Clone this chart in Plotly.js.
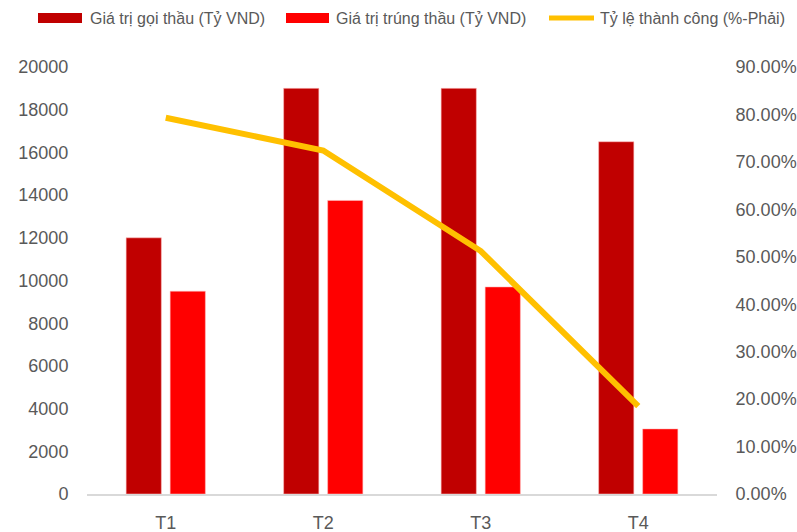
<!DOCTYPE html>
<html>
<head>
<meta charset="utf-8">
<script src="https://cdn.plot.ly/plotly-3.0.1.min.js"></script>
<style>
html,body{margin:0;padding:0;background:#fff;}
#chart{width:797px;height:532px;}
</style>
</head>
<body>
<div id="chart"></div>
<script>
const categories = ["T1", "T2", "T3", "T4"];
const bidValues = [12000, 19000, 19000, 16500];
const winValues = [9500, 13750, 9700, 3050];
const successRate = [0.793, 0.724, 0.512, 0.185];
const seriesNames = ["Giá trị gọi thầu (Tỷ VND)", "Giá trị trúng thầu (Tỷ VND)", "Tỷ lệ thành công (%-Phải)"];
const leftTicks = [0, 2000, 4000, 6000, 8000, 10000, 12000, 14000, 16000, 18000, 20000];
const rightTicks = [0, 0.1, 0.2, 0.3, 0.4, 0.5, 0.6, 0.7, 0.8, 0.9];

const FONT = '"Liberation Sans", Arial, sans-serif';
const DARK = '#C00000', RED = '#FF0000', GOLD = '#FFC000';
const GREY = '#595959';

// plot-area geometry (pixels) for placing the legend in paper coordinates
const W = 797, H = 532, ML = 87, MR = 80, MT = 67, MB = 38;
const PW = W - ML - MR, PH = H - MT - MB;
const px = v => (v - ML) / PW;
const py = v => (H - MB - v) / PH;

const traces = [
  {type:'bar', x:categories, y:bidValues, name:seriesNames[0], marker:{color:DARK, line:{color:'rgba(255,190,190,0.7)', width:0.8}}, hoverinfo:'y'},
  {type:'bar', x:categories, y:winValues, name:seriesNames[1], marker:{color:RED, line:{color:'rgba(255,190,190,0.7)', width:0.8}}, hoverinfo:'y'},
  {type:'scatter', mode:'lines', x:categories, y:successRate, name:seriesNames[2], yaxis:'y2', line:{color:GOLD, width:6}, hoverinfo:'y'}
];

const legendY = 18;
const legendItems = [
  {kind:'rect', color:DARK, x0:38, x1:82, tx:88, text:seriesNames[0]},
  {kind:'rect', color:RED, x0:286, x1:329, tx:334, text:seriesNames[1]},
  {kind:'line', color:GOLD, x0:549, x1:594, tx:598, text:seriesNames[2]}
];

const shapes = legendItems.map(it => it.kind === 'rect'
  ? {type:'rect', xref:'paper', yref:'paper', x0:px(it.x0), x1:px(it.x1), y0:py(legendY+5), y1:py(legendY-5), fillcolor:it.color, line:{width:0}}
  : {type:'line', xref:'paper', yref:'paper', x0:px(it.x0), x1:px(it.x1), y0:py(legendY), y1:py(legendY), line:{color:it.color, width:5}});

const annotations = legendItems.map(it => ({
  xref:'paper', yref:'paper', x:px(it.tx), y:py(legendY), xanchor:'left', yanchor:'middle',
  text:it.text, showarrow:false, font:{family:FONT, size:16, color:GREY}
}));

const layout = {
  width:W, height:H,
  margin:{l:ML, r:MR, t:MT, b:MB, pad:0},
  paper_bgcolor:'#fff', plot_bgcolor:'#fff',
  font:{family:FONT, size:18, color:GREY},
  barmode:'group', bargap:0.441, bargroupgap:0.2,
  showlegend:false,
  shapes:shapes, annotations:annotations,
  xaxis:{type:'category', showgrid:false, zeroline:false, showline:true, linecolor:'#D9D9D9', linewidth:1.5, ticks:'outside', ticklen:12, tickcolor:'rgba(0,0,0,0)', tickfont:{family:FONT, size:18, color:GREY}, fixedrange:true},
  yaxis:{range:[0,20000], tickvals:leftTicks, ticktext:leftTicks.map(v=>String(v)), showgrid:false, zeroline:false, showline:false, ticks:'outside', ticklen:14, tickcolor:'rgba(0,0,0,0)', tickfont:{family:FONT, size:18, color:GREY}, fixedrange:true},
  yaxis2:{overlaying:'y', side:'right', range:[0,0.9], tickvals:rightTicks, ticktext:rightTicks.map(v=>(v*100).toFixed(2)+'%'), showgrid:false, zeroline:false, showline:false, ticks:'outside', ticklen:14, tickcolor:'rgba(0,0,0,0)', tickfont:{family:FONT, size:18, color:GREY}, fixedrange:true}
};

Plotly.newPlot('chart', traces, layout, {displayModeBar:false, staticPlot:true});
</script>
</body>
</html>
